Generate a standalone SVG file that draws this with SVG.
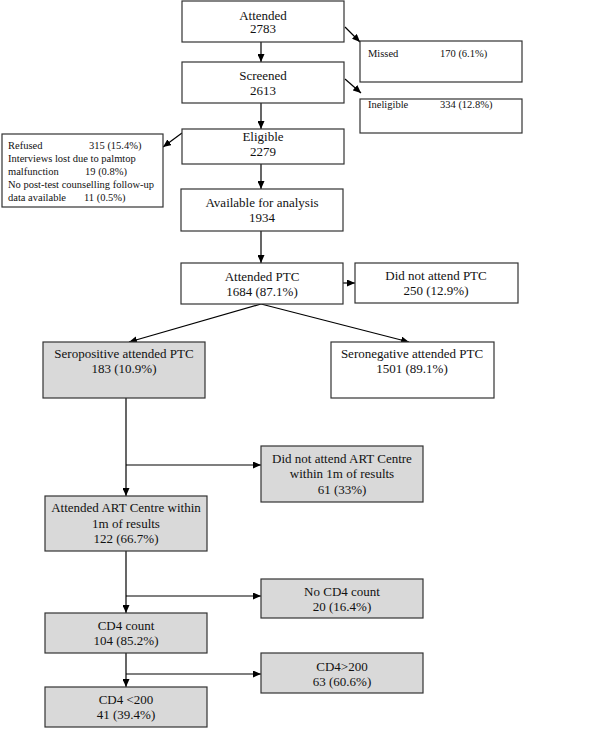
<svg xmlns="http://www.w3.org/2000/svg" width="600" height="729" viewBox="0 0 600 729">
<style>
.box{fill:#fff;stroke:#333;stroke-width:1.2}
.g{fill:#d9d9d9}
.t{font-family:"Liberation Serif","Times New Roman",serif;font-size:13px;fill:#111;text-anchor:middle}
.s{font-family:"Liberation Serif","Times New Roman",serif;font-size:10.5px;fill:#111}
.c{fill:none;stroke:#000;stroke-width:1.2}
</style>
<defs>
<marker id="ah" markerUnits="userSpaceOnUse" markerWidth="8" markerHeight="7" refX="8" refY="3.5" orient="auto">
<path d="M0,0 L8,3.5 L0,7 z" fill="#000"/>
</marker>
</defs>
<g id="connectors">
<path class="c" d="M261,42 L261,62" marker-end="url(#ah)"/>
<path class="c" d="M345,27 L360,42" marker-end="url(#ah)"/>
<path class="c" d="M345,79 L361,93" marker-end="url(#ah)"/>
<path class="c" d="M261,103 L261,129" marker-end="url(#ah)"/>
<path class="c" d="M182,133 L163,147" marker-end="url(#ah)"/>
<path class="c" d="M261,164 L261,189" marker-end="url(#ah)"/>
<path class="c" d="M261,231 L261,263" marker-end="url(#ah)"/>
<path class="c" d="M343,283 L355,283" marker-end="url(#ah)"/>
<path class="c" d="M261,304 L129,342" marker-end="url(#ah)"/>
<path class="c" d="M261,304 L409,342" marker-end="url(#ah)"/>
<path class="c" d="M126,398 L126,496" marker-end="url(#ah)"/>
<path class="c" d="M126,465 L261,465" marker-end="url(#ah)"/>
<path class="c" d="M126,551 L126,613" marker-end="url(#ah)"/>
<path class="c" d="M126,596 L261,596" marker-end="url(#ah)"/>
<path class="c" d="M126,653 L126,687" marker-end="url(#ah)"/>
<path class="c" d="M126,674 L261,674" marker-end="url(#ah)"/>
</g>
<g id="attended">
<rect class="box" x="182" y="1" width="162" height="41"/>
<text class="t" x="263" y="19.5">Attended</text>
<text class="t" x="263" y="33">2783</text>
</g>
<g id="missed">
<rect class="box" x="360" y="41" width="162" height="41"/>
<text class="s" x="368" y="57">Missed</text>
<text class="s" x="440" y="57">170 (6.1%)</text>
</g>
<g id="screened">
<rect class="box" x="182" y="62" width="162" height="41"/>
<text class="t" x="263" y="80">Screened</text>
<text class="t" x="263" y="95">2613</text>
</g>
<g id="ineligible">
<rect class="box" x="360" y="99" width="162" height="34"/>
<text class="s" x="368" y="108">Ineligible</text>
<text class="s" x="440" y="108">334 (12.8%)</text>
</g>
<g id="eligible">
<rect class="box" x="182" y="129" width="162" height="35"/>
<text class="t" x="263" y="141">Eligible</text>
<text class="t" x="263" y="156">2279</text>
</g>
<g id="refused">
<rect class="box" x="2" y="134" width="161" height="73"/>
<text class="s" x="8" y="148.5">Refused</text>
<text class="s" x="89" y="148.5">315 (15.4%)</text>
<text class="s" x="8" y="161.5">Interviews lost due to palmtop</text>
<text class="s" x="8" y="174.5">malfunction</text>
<text class="s" x="85" y="174.5">19 (0.8%)</text>
<text class="s" x="8" y="187.5">No post-test counselling follow-up</text>
<text class="s" x="8" y="200.5">data available</text>
<text class="s" x="84" y="200.5">11 (0.5%)</text>
</g>
<g id="available">
<rect class="box" x="181" y="189" width="162" height="42"/>
<text class="t" x="262" y="207">Available for analysis</text>
<text class="t" x="262" y="222">1934</text>
</g>
<g id="attendedPTC">
<rect class="box" x="181" y="263" width="162" height="41"/>
<text class="t" x="262" y="281">Attended PTC</text>
<text class="t" x="262" y="296">1684 (87.1%)</text>
</g>
<g id="didNotAttendPTC">
<rect class="box" x="355" y="263" width="163" height="40"/>
<text class="t" x="436" y="280">Did not attend PTC</text>
<text class="t" x="436" y="295">250 (12.9%)</text>
</g>
<g id="seropositive">
<rect class="box g" x="43" y="342" width="162" height="56"/>
<text class="t" x="124" y="358">Seropositive attended PTC</text>
<text class="t" x="124" y="373">183 (10.9%)</text>
</g>
<g id="seronegative">
<rect class="box" x="331" y="342" width="163" height="56"/>
<text class="t" x="412" y="358">Seronegative attended PTC</text>
<text class="t" x="412" y="373">1501 (89.1%)</text>
</g>
<g id="didNotAttendART">
<rect class="box g" x="261" y="446" width="162" height="56"/>
<text class="t" x="342" y="463">Did not attend ART Centre</text>
<text class="t" x="342" y="478">within 1m of results</text>
<text class="t" x="342" y="494">61 (33%)</text>
</g>
<g id="attendedART">
<rect class="box g" x="45" y="496" width="162" height="55"/>
<text class="t" x="126" y="512">Attended ART Centre within</text>
<text class="t" x="126" y="528">1m of results</text>
<text class="t" x="126" y="543">122 (66.7%)</text>
</g>
<g id="noCD4">
<rect class="box g" x="261" y="579" width="162" height="39"/>
<text class="t" x="342" y="596">No CD4 count</text>
<text class="t" x="342" y="611">20 (16.4%)</text>
</g>
<g id="cd4count">
<rect class="box g" x="45" y="613" width="162" height="40"/>
<text class="t" x="126" y="630">CD4 count</text>
<text class="t" x="126" y="645">104 (85.2%)</text>
</g>
<g id="cd4gt200">
<rect class="box g" x="261" y="653" width="162" height="40"/>
<text class="t" x="342" y="671">CD4&gt;200</text>
<text class="t" x="342" y="686">63 (60.6%)</text>
</g>
<g id="cd4lt200">
<rect class="box g" x="45" y="687" width="162" height="40"/>
<text class="t" x="126" y="704">CD4 &lt;200</text>
<text class="t" x="126" y="719">41 (39.4%)</text>
</g>
</svg>
